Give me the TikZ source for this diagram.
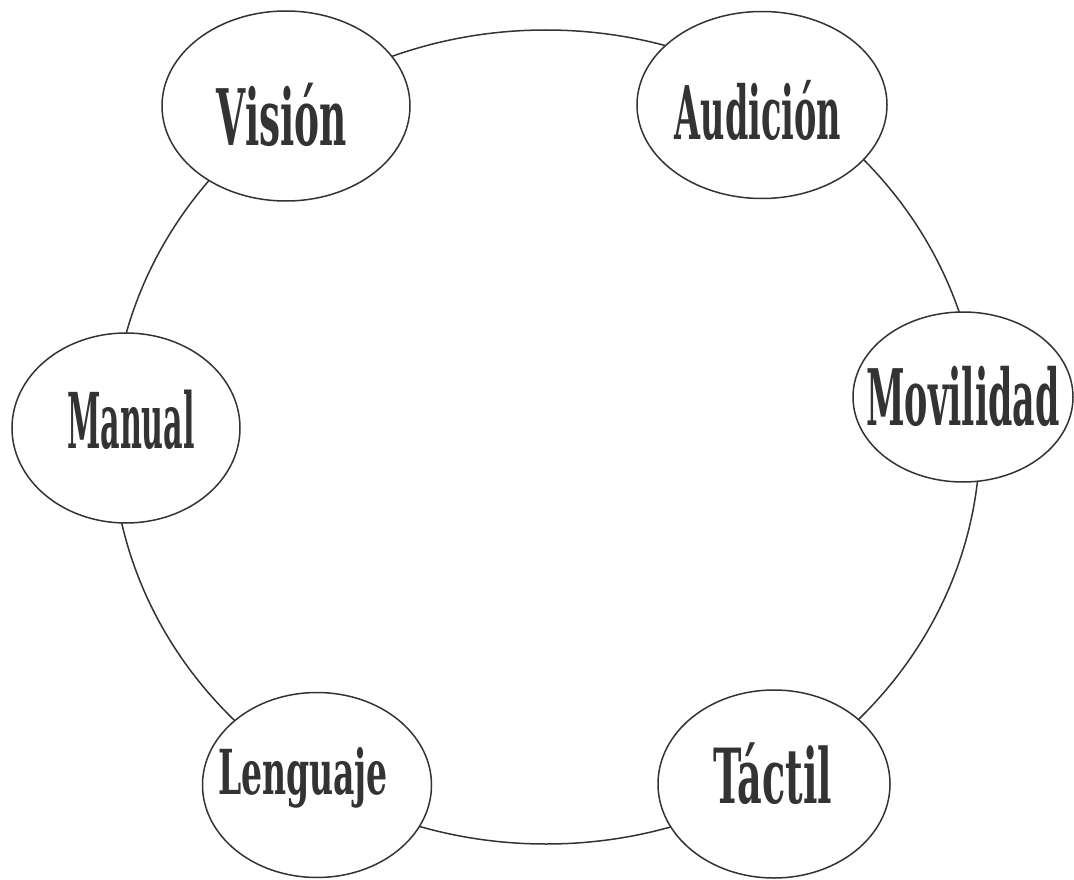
\documentclass[tikz,border=0pt]{standalone}
\usepackage{fontspec}
\newfontfamily\lblfont{DejaVu Serif Condensed}
\usetikzlibrary{shapes.geometric}
\definecolor{ink}{HTML}{333333}
\newcommand\lbltxt[3]{\scalebox{#1}[1]{\fontsize{#2}{#2}\selectfont\lblfont\bfseries #3}}
\begin{document}
\begin{tikzpicture}[x=1pt,y=-1pt,line width=1.5pt,
  ring/.style={draw=ink,ellipse,inner sep=0pt},
  bub/.style={draw=ink,fill=white,ellipse,inner sep=0pt},
  lbl/.style={inner sep=0pt,anchor=base,text=ink}]
\useasboundingbox (0,0) rectangle (1074,880);
\node[ring,minimum width=868pt,minimum height=814pt] (circ) at (546,437) {};
\node[bub,minimum width=248pt,minimum height=190pt] (vision) at (286,106) {};
\node[bub,minimum width=250pt,minimum height=187pt] (audicion) at (762,105) {};
\node[bub,minimum width=220pt,minimum height=170pt] (movilidad) at (963,397) {};
\node[bub,minimum width=228pt,minimum height=190pt] (manual) at (126,428) {};
\node[bub,minimum width=229pt,minimum height=185pt] (lenguaje) at (317,785) {};
\node[bub,minimum width=232pt,minimum height=188pt] (tactil) at (774,784) {};
\node[lbl] (tvision) at (282,146) {\lbltxt{0.534}{78}{Visión}};
\node[lbl] (taudicion) at (758,140) {\lbltxt{0.503}{74}{Audición}};
\node[lbl] (tmovilidad) at (963,425) {\lbltxt{0.497}{78}{Movilidad}};
\node[lbl] (tmanual) at (131,448) {\lbltxt{0.435}{77}{Manual}};
\node[lbl] (tlenguaje) at (303,794) {\lbltxt{0.593}{62}{Lenguaje}};
\node[lbl] (ttactil) at (773,803) {\lbltxt{0.557}{76}{Táctil}};
\end{tikzpicture}
\end{document}
